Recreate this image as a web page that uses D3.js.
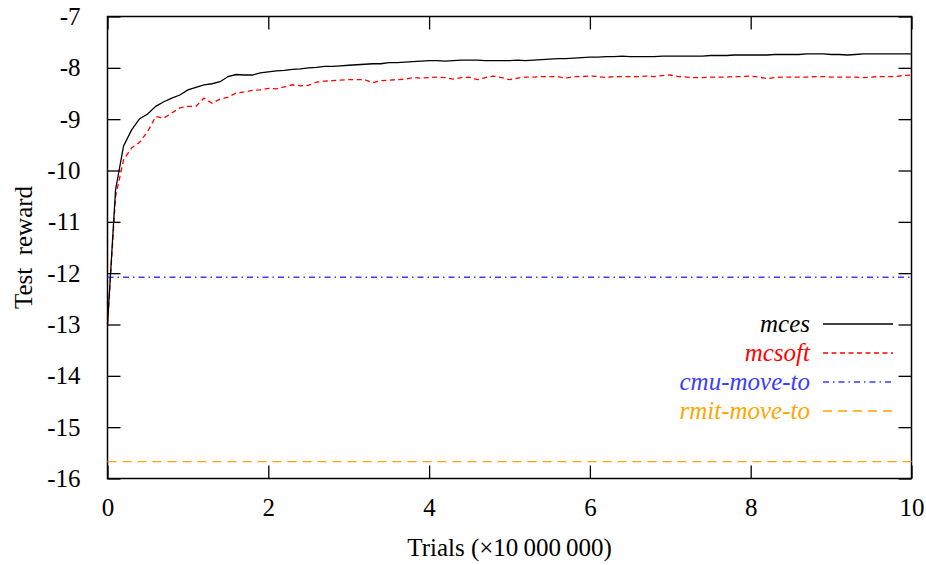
<!DOCTYPE html>
<html>
<head>
<meta charset="utf-8">
<script src="https://cdn.jsdelivr.net/npm/d3@7"></script>
<style>
  html, body { margin: 0; padding: 0; background: #fff; font-family: Times, serif; }
  svg text { font-family: Times, serif; }
</style>
</head>
<body>
<svg id="plot" width="926" height="565"></svg>
<script>
// Trials in units of 10 000 000 (one sample every 0.1)
const trials = d3.range(0, 101).map(i => i / 10);

const mces = [
  -13.00, -10.38, -9.52, -9.21, -8.99, -8.90, -8.75, -8.66, -8.59, -8.53,
  -8.43, -8.38, -8.33, -8.31, -8.27, -8.17, -8.13, -8.14, -8.14, -8.10,
  -8.08, -8.06, -8.05, -8.03, -8.02, -8.00, -7.99, -7.97, -7.97, -7.96,
  -7.95, -7.94, -7.93, -7.92, -7.92, -7.90, -7.90, -7.89, -7.88, -7.87,
  -7.86, -7.86, -7.87, -7.86, -7.85, -7.85, -7.85, -7.86, -7.86, -7.86,
  -7.86, -7.85, -7.86, -7.85, -7.84, -7.83, -7.82, -7.82, -7.81, -7.80,
  -7.79, -7.79, -7.78, -7.78, -7.77, -7.78, -7.78, -7.78, -7.78, -7.77,
  -7.77, -7.77, -7.77, -7.77, -7.77, -7.76, -7.76, -7.76, -7.75, -7.75,
  -7.75, -7.75, -7.75, -7.74, -7.74, -7.74, -7.74, -7.73, -7.73, -7.73,
  -7.74, -7.74, -7.75, -7.74, -7.73, -7.73, -7.73, -7.73, -7.73, -7.73,
  -7.73
];

const mcsoft = [
  -13.00, -10.51, -9.79, -9.56, -9.45, -9.24, -8.95, -8.98, -8.88, -8.78,
  -8.75, -8.75, -8.59, -8.69, -8.61, -8.57, -8.49, -8.47, -8.44, -8.43,
  -8.40, -8.41, -8.37, -8.33, -8.35, -8.34, -8.28, -8.26, -8.25, -8.24,
  -8.23, -8.23, -8.23, -8.29, -8.25, -8.24, -8.23, -8.22, -8.19, -8.20,
  -8.19, -8.18, -8.19, -8.22, -8.19, -8.18, -8.23, -8.19, -8.16, -8.19,
  -8.23, -8.20, -8.18, -8.18, -8.17, -8.17, -8.17, -8.20, -8.17, -8.17,
  -8.16, -8.17, -8.19, -8.17, -8.17, -8.17, -8.17, -8.16, -8.17, -8.15,
  -8.14, -8.17, -8.18, -8.19, -8.19, -8.18, -8.18, -8.18, -8.17, -8.17,
  -8.16, -8.18, -8.21, -8.19, -8.18, -8.18, -8.18, -8.18, -8.17, -8.17,
  -8.18, -8.18, -8.18, -8.18, -8.19, -8.18, -8.17, -8.17, -8.17, -8.15,
  -8.14
];

// Constant baselines
const cmuMoveTo = -12.08;
const rmitMoveTo = -15.67;

const xTicks = [0, 2, 4, 6, 8, 10];
const yTicks = [-7, -8, -9, -10, -11, -12, -13, -14, -15, -16];

const seriesNames = ["mces", "mcsoft", "cmu-move-to", "rmit-move-to"];
const seriesColors = ["#000000", "#ff0000", "#3c3cff", "#ffa500"];
const seriesDash = [null, "5,3.5", "6,4,1.5,4", "9,6"];

const textFont = "Times";
const fontSize = "25px";

const svg = d3.select("#plot");
const W = 926, H = 565;
const m = { left: 107.5, right: W - 911.5, top: 16.5, bottom: H - 478.5 };

const x = d3.scaleLinear().domain([0, 10]).range([m.left, W - m.right]);
const y = d3.scaleLinear().domain([-16, -7]).range([H - m.bottom, m.top]);

const tickLen = 13;

// Axes: inward ticks, mirrored on the opposite sides
const axisStyle = g => {
  g.attr("font-family", textFont).attr("font-size", 25);
  g.select(".domain").remove();
  g.selectAll(".tick line").attr("stroke", "#000").attr("stroke-width", 1.3);
  g.selectAll(".tick text")
    .attr("fill", "#000")
    .attr("font-family", textFont)
    .style("font-family", textFont)
    .style("font-size", fontSize);
};

svg.append("g")
  .attr("transform", `translate(0,${y(-16)})`)
  .call(d3.axisBottom(x).tickValues(xTicks).tickFormat(d3.format("d"))
    .tickSizeInner(-tickLen).tickSizeOuter(0).tickPadding(20))
  .call(axisStyle);

svg.append("g")
  .attr("transform", `translate(0,${y(-7)})`)
  .call(d3.axisTop(x).tickValues(xTicks).tickFormat("")
    .tickSizeInner(-tickLen).tickSizeOuter(0))
  .call(axisStyle);

svg.append("g")
  .attr("transform", `translate(${x(0)},0)`)
  .call(d3.axisLeft(y).tickValues(yTicks).tickFormat(d => String(d).replace("\u2212", "-"))
    .tickSizeInner(-tickLen).tickSizeOuter(0).tickPadding(27))
  .call(axisStyle);

svg.append("g")
  .attr("transform", `translate(${x(10)},0)`)
  .call(d3.axisRight(y).tickValues(yTicks).tickFormat("")
    .tickSizeInner(-tickLen).tickSizeOuter(0))
  .call(axisStyle);

// Plot frame
svg.append("rect")
  .attr("x", x(0)).attr("y", y(-7))
  .attr("width", x(10) - x(0)).attr("height", y(-16) - y(-7))
  .attr("fill", "none").attr("stroke", "#000").attr("stroke-width", 1.5);

// Axis titles
svg.append("text")
  .attr("x", (x(0) + x(10)) / 2).attr("y", 556)
  .attr("text-anchor", "middle")
  .attr("font-family", textFont)
  .style("font-family", textFont)
  .style("font-size", fontSize)
  .text("Trials (\u00d710\u2009000\u2009000)");

svg.append("text")
  .attr("transform", `translate(32,${(y(-7) + y(-16)) / 2}) rotate(-90)`)
  .attr("text-anchor", "middle")
  .attr("font-family", textFont)
  .style("font-family", textFont)
  .style("font-size", fontSize)
  .text("Test\u2002reward");

// Data lines
const line = d3.line().x(d => x(d[0])).y(d => y(d[1]));
const plotG = svg.append("g");

const seriesData = [
  trials.map((t, i) => [t, mces[i]]),
  trials.map((t, i) => [t, mcsoft[i]]),
  [[0, cmuMoveTo], [10, cmuMoveTo]],
  [[0, rmitMoveTo], [10, rmitMoveTo]]
];

// draw baselines first, then learning curves on top
[3, 2, 1, 0].forEach(i => {
  plotG.append("path")
    .datum(seriesData[i])
    .attr("d", line)
    .attr("fill", "none")
    .attr("stroke", seriesColors[i])
    .attr("stroke-width", 1.3)
    .attr("stroke-dasharray", seriesDash[i]);
});

// Legend
const legendRows = [324, 353, 382, 411];
const legend = svg.append("g");
seriesNames.forEach((name, i) => {
  legend.append("text")
    .attr("x", 810).attr("y", legendRows[i])
    .attr("dy", "0.32em")
    .attr("text-anchor", "end")
    .attr("fill", seriesColors[i])
    .attr("font-family", textFont)
    .style("font-family", textFont)
    .style("font-size", fontSize)
    .style("font-style", "italic")
    .text(name);
  legend.append("line")
    .attr("x1", 823).attr("x2", 893)
    .attr("y1", legendRows[i]).attr("y2", legendRows[i])
    .attr("stroke", seriesColors[i])
    .attr("stroke-width", 1.3)
    .attr("stroke-dasharray", seriesDash[i]);
});
</script>
</body>
</html>
